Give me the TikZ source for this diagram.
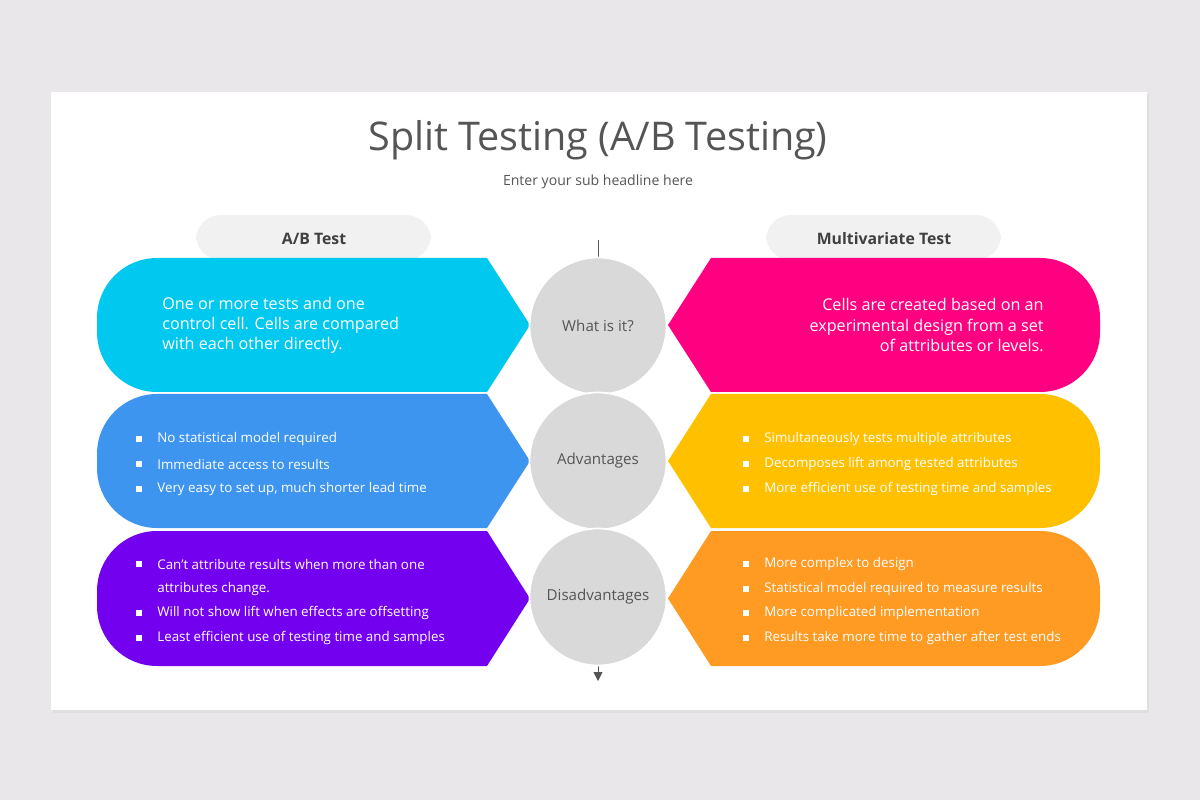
\documentclass[tikz,border=0pt]{standalone}
\usepackage{fontspec}
\setmainfont{Open Sans}
\usetikzlibrary{positioning, arrows.meta}
\definecolor{bgray}{HTML}{E9E7E9}
\definecolor{tgray}{HTML}{555555}
\definecolor{cgray}{HTML}{D9D9D9}
\definecolor{tabgray}{HTML}{F1F1F1}
\definecolor{ccyan}{HTML}{00C8EE}
\definecolor{cblue}{HTML}{3D95F0}
\definecolor{cpurple}{HTML}{7300EE}
\definecolor{cpink}{HTML}{FF0080}
\definecolor{cyellow}{HTML}{FFC000}
\definecolor{corange}{HTML}{FF9A22}
\tikzset{
  cell/.style={draw=white, line width=1pt},
  bul/.style={text=white, anchor=west, inner sep=0pt, font=\fontsize{7.6}{9}\selectfont},
  big/.style={text=white, inner sep=0pt, font=\fontsize{9.2}{11.4}\selectfont},
  sq/.style={fill=white, minimum size=3pt, inner sep=0pt},
  tab/.style={fill=tabgray, rounded corners=0.5cm},
}
\begin{document}
\begin{tikzpicture}[x=0.02cm, y=-0.02cm]
  % background and card
  \fill[bgray] (0,0) rectangle (1200,800);
  \fill[black!12] (53,94) rectangle (1149,713);
  \fill[white] (51,92) rectangle (1147,710);

  % titles
  \node[text=tgray, font=\fontsize{22.5}{26}\selectfont] (title) at (598,140) {Split Testing (A/B Testing)};
  \node[text=tgray, font=\fontsize{8}{10}\selectfont] (sub) at (598,182) {Enter your sub headline here};

  % tabs
  \fill[tab] (196,260) rectangle (431,215);
  \fill[tab] (766,260) rectangle (1001,215);
  \node[text=black!75, font=\bfseries\fontsize{9}{11}\selectfont] (tabL) at (314,239) {A/B Test};
  \node[text=black!75, font=\bfseries\fontsize{9}{11}\selectfont] (tabR) at (884,239) {Multivariate Test};

  % left cells
  \foreach \t/\b/\c in {258/392/ccyan, 394/528/cblue, 531/666/cpurple}{
    \fill[\c] (530,{(\t+\b)/2}) -- (487,\t) [rounded corners=1.2cm] -- (97,\t) -- (97,\b)
      [sharp corners] -- (487,\b) -- cycle;
  }
  % right cells
  \foreach \t/\b/\c in {258/392/cpink, 394/528/cyellow, 531/666/corange}{
    \fill[\c] (668,{(\t+\b)/2}) -- (711,\t) [rounded corners=1.2cm] -- (1100,\t) -- (1100,\b)
      [sharp corners] -- (711,\b) -- cycle;
  }

  % centre axis
  \coordinate (top) at (598,240);
  \coordinate (bot) at (598,681);
  \draw[tgray, -{Triangle[length=5pt,width=5pt]}] (top) -- (bot);
  \foreach \y/\n/\l in {326/q1/What is it?, 461/q2/Advantages, 597/q3/Disadvantages}{
    \node[circle, fill=cgray, draw=white, line width=1pt, minimum size=2.74cm, text=tgray,
      font=\fontsize{8.6}{10}\selectfont] (\n) at (598,\y) {\l};
  }

  % first row texts
  \node[big, anchor=west, align=left] (whatL) at (162,325)
    {One or more tests and one\\control cell. Cells are compared\\with each other directly.};
  \node[big, anchor=east, align=right] (whatR) at (1044,325)
    {Cells are created based on an\\experimental design from a set\\of attributes or levels.};

  % bullet lists
  \foreach \y/\s/\l [count=\i] in {
      439/1/No statistical model required,
      464/1/Immediate access to results,
      489/1/{Very easy to set up, much shorter lead time},
      564/1/Can't attribute results when more than one,
      589/0/attributes change.,
      613/1/Will not show lift when effects are offsetting,
      638/1/Least efficient use of testing time and samples}{
    \node[bul] (bl\i) at (157,\y) {\l};
    \ifnum\s=1 \node[sq] (sl\i) at (139,\y) {};\fi
  }
  \foreach \y/\l [count=\i] in {
      439/Simultaneously tests multiple attributes,
      464/Decomposes lift among tested attributes,
      489/More efficient use of testing time and samples,
      564/More complex to design,
      589/Statistical model required to measure results,
      613/More complicated implementation,
      638/Results take more time to gather after test ends}{
    \node[bul] (br\i) at (764,\y) {\l};
    \node[sq] (sr\i) at (746,\y) {};
  }
\end{tikzpicture}
\end{document}
